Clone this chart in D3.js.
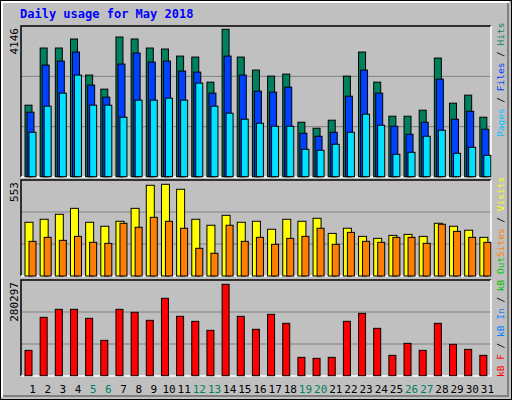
<!DOCTYPE html><html><head><meta charset="utf-8">
<script src="https://cdn.jsdelivr.net/npm/d3@7"></script>
<style>body{margin:0;background:#fff}text{font-family:"DejaVu Sans Mono",monospace}</style></head><body>
<svg id="c" width="512" height="400"></svg>
<script>
const days=d3.range(1,32);
const weekends=[5,6,12,13,19,20,26,27];
const hits=[2012,3619,3619,3873,2858,2463,3929,3873,3619,3591,3393,3365,2660,4146,3365,2999,2829,2886,1532,1363,1589,2829,3506,2660,1701,1701,1871,3337,2068,2294,1673];
const files=[1814,3140,3252,3506,2576,2237,3168,3478,3224,3252,2970,2942,2350,3393,2858,2406,2378,2519,1222,1137,1250,2265,2999,2350,1419,1194,1532,2745,1617,1842,1335];
const pages=[1250,1983,2350,2858,2012,2012,1673,2153,2153,2209,2153,2632,1983,1786,1617,1504,1419,1419,771,743,912,1250,1758,1448,630,686,1137,1307,658,827,602];
const visits=[324,342,372,408,324,300,330,408,547,553,523,342,306,366,324,330,282,342,330,348,257,288,239,227,245,251,239,318,300,276,233];
const sites=[209,233,215,239,203,197,318,294,354,330,288,167,137,306,209,233,191,227,239,288,191,263,209,203,233,233,197,312,269,233,203];
const kbytes=[77748,179025,203577,203577,175956,108438,203577,194370,169818,237336,182094,166749,139128,280297,182094,142197,188232,160611,56265,53196,56265,166749,191301,145266,62403,99231,77748,160611,96162,80817,62403];

const svg=d3.select("#c");
svg.append("rect").attr("x",0.5).attr("y",0.5).attr("width",511).attr("height",399).attr("fill","#c0c0c0").attr("stroke","#000");
svg.append("path").attr("d","M2,397V2H509").attr("fill","none").attr("stroke","#fff").attr("stroke-width",2);
svg.append("path").attr("d","M3,396H508V3").attr("fill","none").attr("stroke","#808080").attr("stroke-width",2);
svg.append("text").attr("x",20).attr("y",18).attr("fill","#0000ff").attr("font-weight","bold").attr("font-size",12).text("Daily usage for May 2018");

const x=d3.scaleBand().domain(days).range([21,491]).paddingInner(0);
const L=21,R=491;
function panel(top,bot){
  svg.append("rect").attr("x",L).attr("y",top).attr("width",R-L).attr("height",bot-top).attr("fill","#c0c0c0");
  const h=bot-top;
  [1/3,2/3].forEach(f=>svg.append("line").attr("x1",L).attr("x2",R).attr("y1",top+h*f).attr("y2",top+h*f).attr("stroke","#808080"));
  svg.append("path").attr("d",`M${L},${bot}V${top}H${R}`).attr("fill","none").attr("stroke","#000").attr("stroke-width",1.5);
  svg.append("path").attr("d",`M${R},${top}V${bot}H${L}`).attr("fill","none").attr("stroke","#fff").attr("stroke-width",1.5);
}
function bars(data,y,off,w,col){
  svg.append("g").selectAll("rect").data(data).join("rect")
   .attr("x",(d,i)=>x(days[i])+off).attr("width",w)
   .attr("y",d=>y(d)).attr("height",d=>y(0)-y(d))
   .attr("fill",col).attr("stroke","#000").attr("stroke-width",1);
}
function yl(txt,top){
  svg.append("text").attr("transform",`translate(18,${top})rotate(-90)`).attr("text-anchor","end").attr("font-size",11).attr("fill","#000").text(txt);
}
function rl(parts,y){
  const t=svg.append("text").attr("transform",`translate(504,${y})rotate(-90)`).attr("text-anchor","start").attr("font-size",9.5);
  parts.forEach(p=>t.append("tspan").attr("fill",p[1]).text(p[0]));
}
// top
panel(26,177);
const y1=d3.scaleLinear().domain([0,4146]).range([176.7,29.3]);
bars(hits,y1,4,7,"#00805c");
bars(files,y1,6,7,"#0040ff");
bars(pages,y1,8,7,"#00e0ff");
yl("4146",28);
rl([["Pages","#00c0ff"],[" / ","#000"],["Files","#0040ff"],[" / ","#000"],["Hits","#00805c"]],137);
// middle
panel(180,276);
const y2=d3.scaleLinear().domain([0,553]).range([276,184.3]);
bars(visits,y2,4,8,"#ffff00");
bars(sites,y2,8,7,"#ff8000");
yl("553",182);
rl([["Sites","#ff8000"],[" / ","#000"],["Visits","#ffff00"]],257);
// bottom
panel(280,376);
const y3=d3.scaleLinear().domain([0,280297]).range([375.7,284.3]);
bars(kbytes,y3,4,7,"#ff0000");
yl("280297",282);
rl([["kB F","#ff0000"],[" / ","#000"],["kB In","#0080ff"],[" / ","#000"],["kB Out","#00c000"]],377);
// day labels
svg.append("g").selectAll("text").data(days).join("text")
 .attr("x",d=>x(d)+x.bandwidth()/2+4).attr("y",393).attr("text-anchor","middle").attr("font-size",11)
 .attr("fill",d=>weekends.includes(d)?"#008060":"#000").text(d=>d);
</script></body></html>
